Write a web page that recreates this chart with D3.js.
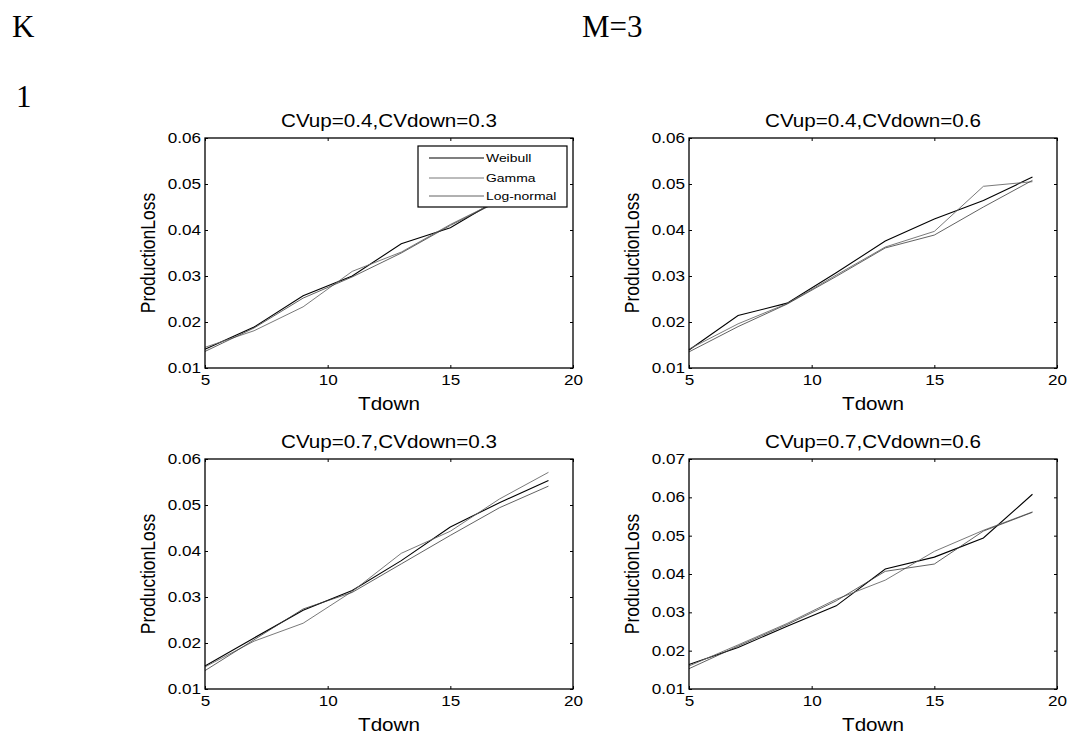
<!DOCTYPE html>
<html>
<head>
<meta charset="utf-8">
<script src="https://cdn.jsdelivr.net/npm/d3@7"></script>
<style>
  html, body { margin: 0; padding: 0; background: #fff; }
  svg { display: block; }
  text { font-family: "Liberation Sans", Arial, sans-serif; fill: #000; }
  text.serif { font-family: "Liberation Serif", "Times New Roman", serif; }
</style>
</head>
<body>
<svg id="chart" width="1077" height="740"></svg>
<script>
// ---------- data ----------
const tdown = [5, 7, 9, 11, 13, 15, 17, 19];
const seriesNames = ["Weibull", "Gamma", "Log-normal"];
const panelTitles = ["CVup=0.4,CVdown=0.3", "CVup=0.4,CVdown=0.6", "CVup=0.7,CVdown=0.3", "CVup=0.7,CVdown=0.6"];
const xTicks = [5, 10, 15, 20];
const yTicksA = [0.01, 0.02, 0.03, 0.04, 0.05, 0.06];
const yTicksB = [0.01, 0.02, 0.03, 0.04, 0.05, 0.06, 0.07];

// panel 1: CVup=0.4, CVdown=0.3
const p1Weibull   = [0.0141, 0.0189, 0.0257, 0.0300, 0.0370, 0.0405, 0.0468, 0.0515];
const p1Gamma     = [0.0145, 0.0181, 0.0233, 0.0310, 0.0352, 0.0412, 0.0465, 0.0512];
const p1LogNormal = [0.0136, 0.0187, 0.0252, 0.0298, 0.0350, 0.0410, 0.0463, 0.0518];
// panel 2: CVup=0.4, CVdown=0.6
const p2Weibull   = [0.0139, 0.0214, 0.0241, 0.0307, 0.0376, 0.0424, 0.0464, 0.0515];
const p2Gamma     = [0.0141, 0.0196, 0.0240, 0.0302, 0.0363, 0.0397, 0.0495, 0.0505];
const p2LogNormal = [0.0135, 0.0190, 0.0239, 0.0299, 0.0361, 0.0389, 0.0450, 0.0508];
// panel 3: CVup=0.7, CVdown=0.3
const p3Weibull   = [0.0150, 0.0211, 0.0271, 0.0314, 0.0379, 0.0452, 0.0505, 0.0553];
const p3Gamma     = [0.0148, 0.0204, 0.0243, 0.0312, 0.0395, 0.0443, 0.0513, 0.0571];
const p3LogNormal = [0.0140, 0.0207, 0.0274, 0.0310, 0.0372, 0.0434, 0.0494, 0.0541];
// panel 4: CVup=0.7, CVdown=0.6
const p4Weibull   = [0.0164, 0.0208, 0.0264, 0.0317, 0.0413, 0.0444, 0.0494, 0.0608];
const p4Gamma     = [0.0160, 0.0215, 0.0271, 0.0334, 0.0384, 0.0459, 0.0514, 0.0562];
const p4LogNormal = [0.0153, 0.0212, 0.0268, 0.0330, 0.0407, 0.0426, 0.0512, 0.0561];

// ---------- layout ----------
const SX = 1.18; // horizontal text stretch seen in the reference
const svg = d3.select("#chart");

const seriesStyle = [
  { stroke: "#000", width: 1.1 },
  { stroke: "#6a6a6a", width: 0.9 },
  { stroke: "#3a3a3a", width: 0.8 }
];

const panels = [
  { left: 205, top: 138, data: [p1Weibull, p1Gamma, p1LogNormal], yDom: [0.01, 0.06], yTicks: yTicksA, legend: true },
  { left: 689, top: 138, data: [p2Weibull, p2Gamma, p2LogNormal], yDom: [0.01, 0.06], yTicks: yTicksA },
  { left: 205, top: 459, data: [p3Weibull, p3Gamma, p3LogNormal], yDom: [0.01, 0.06], yTicks: yTicksA },
  { left: 689, top: 459, data: [p4Weibull, p4Gamma, p4LogNormal], yDom: [0.01, 0.07], yTicks: yTicksB }
];
const W = 368, H = 230;

// header texts
svg.append("text").attr("class", "serif").attr("x", 12).attr("y", 37).attr("font-size", 31).text("K");
svg.append("text").attr("class", "serif").attr("x", 582).attr("y", 37).attr("font-size", 31).text("M=3");
svg.append("text").attr("class", "serif").attr("x", 16).attr("y", 107).attr("font-size", 31).text("1");

function stretchText(sel) {
  sel.each(function () {
    const t = d3.select(this);
    const x = +t.attr("x") || 0;
    const y = +t.attr("y") || 0;
    t.attr("x", 0).attr("y", 0).attr("transform", `translate(${x},${y}) scale(${SX},1)`);
  });
}

panels.forEach((p, i) => {
  const g = svg.append("g").attr("transform", `translate(${p.left},${p.top})`);
  const x = d3.scaleLinear().domain([5, 20]).range([0, W]);
  const y = d3.scaleLinear().domain(p.yDom).range([H, 0]);

  // lines
  const line = d3.line().x((d, k) => x(tdown[k])).y(d => y(d));
  p.data.forEach((vals, s) => {
    g.append("path")
      .datum(vals)
      .attr("fill", "none")
      .attr("stroke", seriesStyle[s].stroke)
      .attr("stroke-width", seriesStyle[s].width)
      .attr("stroke-linejoin", "miter")
      .attr("d", line);
  });

  // axes (inward ticks)
  const fmt = d3.format(".2f");
  const xb = g.append("g").attr("transform", `translate(0,${H})`)
    .call(d3.axisBottom(x).tickValues(xTicks).tickSize(-3).tickSizeOuter(0).tickPadding(7).tickFormat(d3.format("d")));
  const xt = g.append("g")
    .call(d3.axisTop(x).tickValues(xTicks).tickSize(-3).tickSizeOuter(0).tickFormat(""));
  const yl = g.append("g")
    .call(d3.axisLeft(y).tickValues(p.yTicks).tickSize(-3).tickSizeOuter(0).tickPadding(4).tickFormat(fmt));
  const yr = g.append("g").attr("transform", `translate(${W},0)`)
    .call(d3.axisRight(y).tickValues(p.yTicks).tickSize(-3).tickSizeOuter(0).tickFormat(""));
  [xb, xt, yl, yr].forEach(a => {
    a.select(".domain").remove();
    a.selectAll("line").attr("stroke", "#000").attr("stroke-width", 1);
    a.selectAll("text").attr("font-size", 14.5).attr("font-family", null).attr("fill", "#000");
  });
  xb.selectAll("text").attr("transform", `scale(${SX},1)`);
  yl.selectAll("text").attr("transform", `scale(${SX},1)`).attr("x", -4 / SX);

  // box
  g.append("rect").attr("x", 0).attr("y", 0).attr("width", W).attr("height", H)
    .attr("fill", "none").attr("stroke", "#000").attr("stroke-width", 1.3);

  // title
  const tt = g.append("text").attr("x", W / 2).attr("y", -11).attr("text-anchor", "middle")
    .attr("font-size", 17.5).text(panelTitles[i]);
  stretchText(tt);
  // x label
  const xlab = g.append("text").attr("x", W / 2).attr("y", H + 41.5).attr("text-anchor", "middle")
    .attr("font-size", 17.5).text("Tdown");
  stretchText(xlab);
  // y label
  g.append("text")
    .attr("transform", `translate(-50,${H / 2}) scale(${SX},1) rotate(-90)`)
    .attr("text-anchor", "middle").attr("font-size", 17.5).text("ProductionLoss");

  // legend
  if (p.legend) {
    const lg = g.append("g").attr("transform", "translate(213,8)");
    lg.append("rect").attr("width", 149).attr("height", 61).attr("fill", "#fff")
      .attr("stroke", "#000").attr("stroke-width", 1.2);
    const rows = [12, 32, 50];
    seriesNames.forEach((name, s) => {
      lg.append("line").attr("x1", 11).attr("x2", 66).attr("y1", rows[s]).attr("y2", rows[s])
        .attr("stroke", seriesStyle[s].stroke).attr("stroke-width", seriesStyle[s].width);
      const t = lg.append("text").attr("x", 68).attr("y", rows[s] + 4.3).attr("font-size", 11.8).text(name);
      stretchText(t);
    });
  }
});
</script>
</body>
</html>
